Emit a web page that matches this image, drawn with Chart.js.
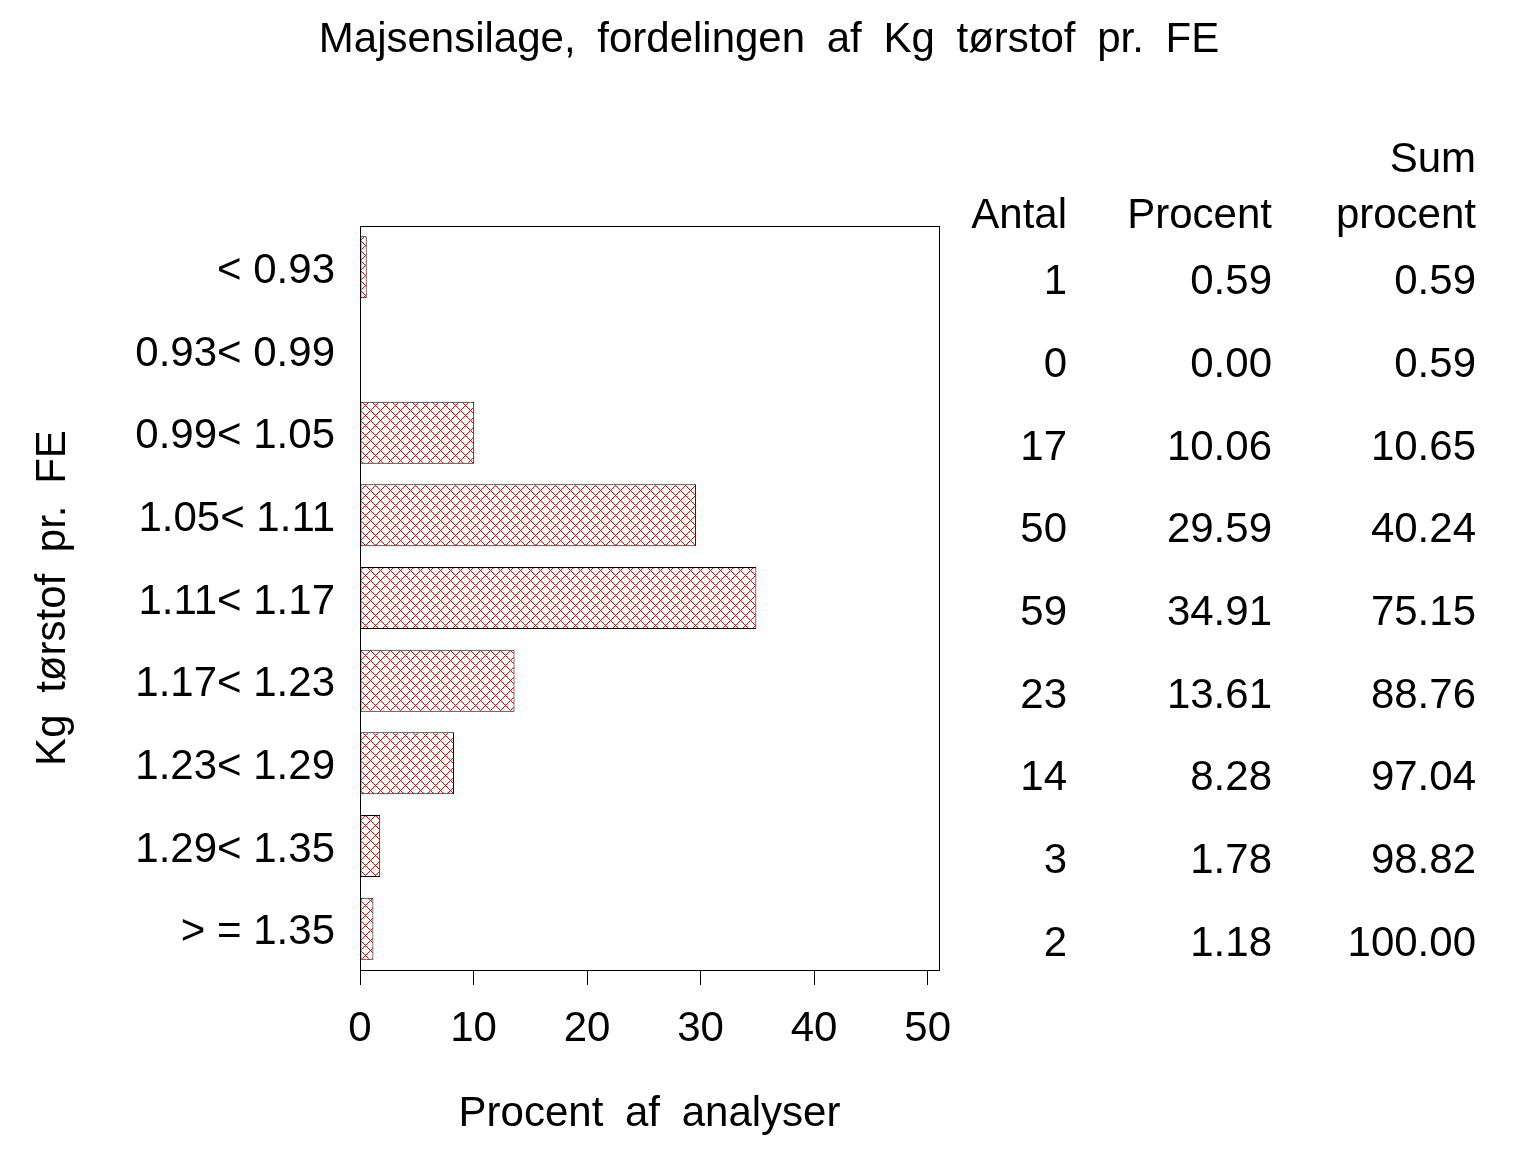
<!DOCTYPE html>
<html>
<head>
<meta charset="utf-8">
<script src="https://cdn.jsdelivr.net/npm/chart.js@4"></script>
<style>
  html, body { margin: 0; padding: 0; background: #fff; }
  #wrap { width: 1536px; height: 1152px; }
</style>
</head>
<body>
<div id="wrap"><canvas id="c" width="1536" height="1152"></canvas></div>
<script>
const titleText = 'Majsensilage, fordelingen af Kg tørstof pr. FE';
const xTitle = 'Procent af analyser';
const yTitle = 'Kg tørstof pr. FE';
const categories = ['< 0.93', '0.93< 0.99', '0.99< 1.05', '1.05< 1.11', '1.11< 1.17', '1.17< 1.23', '1.23< 1.29', '1.29< 1.35', '> = 1.35'];
const antal = [1, 0, 17, 50, 59, 23, 14, 3, 2];
const procent = [0.59, 0.00, 10.06, 29.59, 34.91, 13.61, 8.28, 1.78, 1.18];
const sumProcent = [0.59, 0.59, 10.65, 40.24, 75.15, 88.76, 97.04, 98.82, 100.00];
const xTicks = [0, 10, 20, 30, 40, 50];
const xMin = 0, xMax = 51;

const FONT = "'Liberation Sans', Arial, Helvetica, sans-serif";
const FS = 42;

function makeHatch() {
  const c = document.createElement('canvas');
  c.width = 10; c.height = 10;
  const g = c.getContext('2d');
  g.fillStyle = '#ffffff';
  g.fillRect(0, 0, 10, 10);
  g.fillStyle = '#ff0000';
  for (let i = 0; i < 10; i++) {
    g.fillRect(i, i, 1, 1);
    g.fillRect((10 - i) % 10, i, 1, 1);
  }
  return g.createPattern(c, 'repeat');
}

const decorPlugin = {
  id: 'decor',
  afterDraw(chart) {
    const ctx = chart.ctx;
    const a = chart.chartArea;
    const ys = chart.scales.y;
    ctx.save();
    if ('wordSpacing' in ctx) ctx.wordSpacing = '10px';
    // frame
    ctx.strokeStyle = '#000';
    ctx.lineWidth = 1;
    ctx.strokeRect(Math.round(a.left) + 0.5, Math.round(a.top) + 0.5, Math.round(a.right - a.left), Math.round(a.bottom - a.top));
    ctx.fillStyle = '#000';
    ctx.font = FS + 'px ' + FONT;
    ctx.textBaseline = 'alphabetic';
    // title
    ctx.textAlign = 'center';
    ctx.fillText(titleText, 769, 52);
    // x title
    ctx.fillText(xTitle, (a.left + a.right) / 2, 1126);
    // y title
    ctx.save();
    ctx.translate(65, (a.top + a.bottom) / 2);
    ctx.rotate(-Math.PI / 2);
    ctx.fillText(yTitle, 0, 0);
    ctx.restore();
    // table
    ctx.textAlign = 'right';
    const cols = [1067, 1272, 1476];
    ctx.fillText('Sum', cols[2], 172);
    ctx.fillText('Antal', cols[0], 228);
    ctx.fillText('Procent', cols[1], 228);
    ctx.fillText('procent', cols[2], 228);
    categories.forEach((cat, i) => {
      const y = ys.getPixelForValue(i) + 27;
      ctx.fillText(String(antal[i]), cols[0], y);
      ctx.fillText(procent[i].toFixed(2), cols[1], y);
      ctx.fillText(sumProcent[i].toFixed(2), cols[2], y);
    });
    ctx.restore();
  }
};

Chart.defaults.font.family = FONT;
Chart.defaults.color = '#000';

new Chart(document.getElementById('c'), {
  type: 'bar',
  data: {
    labels: categories,
    datasets: [{
      data: procent,
      backgroundColor: makeHatch(),
      borderColor: '#000000',
      borderWidth: (ctx) => (ctx.raw === 0 ? 0 : 1),
      borderSkipped: false,
      inflateAmount: 0,
      barPercentage: 0.75,
      categoryPercentage: 1.0
    }]
  },
  options: {
    indexAxis: 'y',
    responsive: false,
    animation: false,
    devicePixelRatio: 1,
    layout: { padding: { left: 0, top: 226, right: 597, bottom: 0 } },
    plugins: {
      legend: { display: false },
      tooltip: { enabled: false },
      title: { display: false }
    },
    scales: {
      x: {
        type: 'linear',
        min: xMin,
        max: xMax,
        afterBuildTicks: (s) => { s.ticks = xTicks.map(v => ({ value: v })); },
        afterFit: (s) => { s.height = 182; },
        grid: {
          display: true,
          drawOnChartArea: false,
          drawTicks: true,
          tickLength: 15,
          color: '#000',
          lineWidth: 1
        },
        border: { display: true, color: '#000', width: 1 },
        ticks: {
          font: { size: FS },
          color: '#000',
          padding: 19,
          maxRotation: 0,
          autoSkip: false
        }
      },
      y: {
        type: 'category',
        afterFit: (s) => { s.width = 360; },
        grid: { display: false, drawTicks: false },
        border: { display: false },
        ticks: {
          font: { size: FS },
          color: '#000',
          padding: 25,
          labelOffset: 4,
          autoSkip: false
        }
      }
    }
  },
  plugins: [decorPlugin]
});
</script>
</body>
</html>
